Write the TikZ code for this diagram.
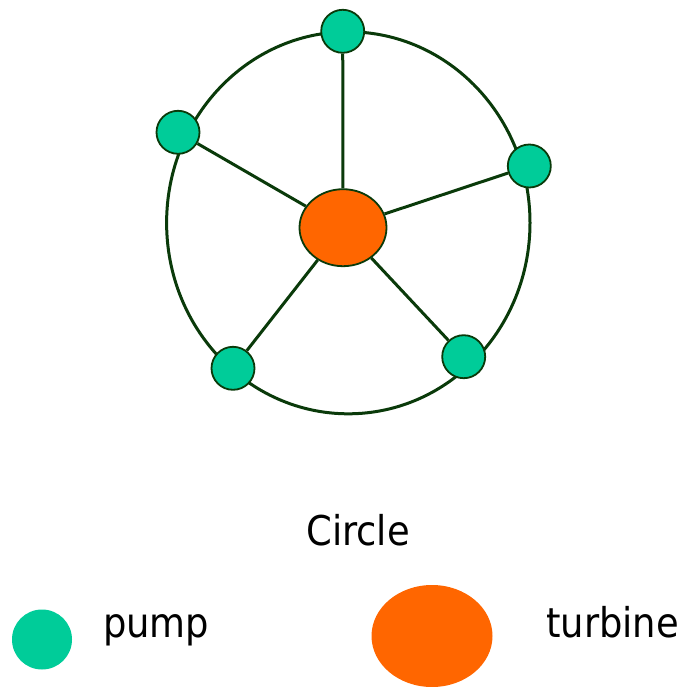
\documentclass[tikz,border=0pt]{standalone}
\usepackage{fontspec}
\setmainfont{DejaVu Sans Condensed}
\usetikzlibrary{shapes.geometric}
\definecolor{pumpgreen}{HTML}{00CC99}
\definecolor{turborange}{HTML}{FF6600}
\definecolor{linegreen}{HTML}{0A3A0A}
\begin{document}
\begin{tikzpicture}[x=1pt,y=-1pt,
pump/.style={circle,draw=linegreen,line width=1.8pt,fill=pumpgreen,minimum size=43pt,inner sep=0pt},
turbine/.style={ellipse,draw=linegreen,line width=1.8pt,fill=turborange,minimum width=87pt,minimum height=77pt,inner sep=0pt},
lbl/.style={font=\fontsize{41}{48}\selectfont,inner sep=0pt}]
\useasboundingbox(0,0)rectangle(682,687);
\draw[linegreen,line width=3pt](348.3,222.8)ellipse[x radius=181.7,y radius=191];
\node[turbine](t)at(343,227.7){};
\foreach \n/\x/\y in {pa/342.7/31.3,pb/178/132.3,pc/529.3/166,pd/233/368.3,pe/463.7/356.7}
\node[pump](\n)at(\x,\y){};
\foreach \n in {pa,pb,pc,pd,pe}\draw[linegreen,line width=3pt](t)--(\n);
\node[lbl,anchor=base](title)at(358,545){Circle};
\node[pump,draw=none,minimum size=60pt](legpump)at(42,639.5){};
\node[lbl,anchor=base west](pumptext)at(103,637){pump};
\node[turbine,draw=none,minimum width=121pt,minimum height=102pt](legturb)at(432,636){};
\node[lbl,anchor=base west](turbtext)at(546,637){turbine};
\end{tikzpicture}
\end{document}
